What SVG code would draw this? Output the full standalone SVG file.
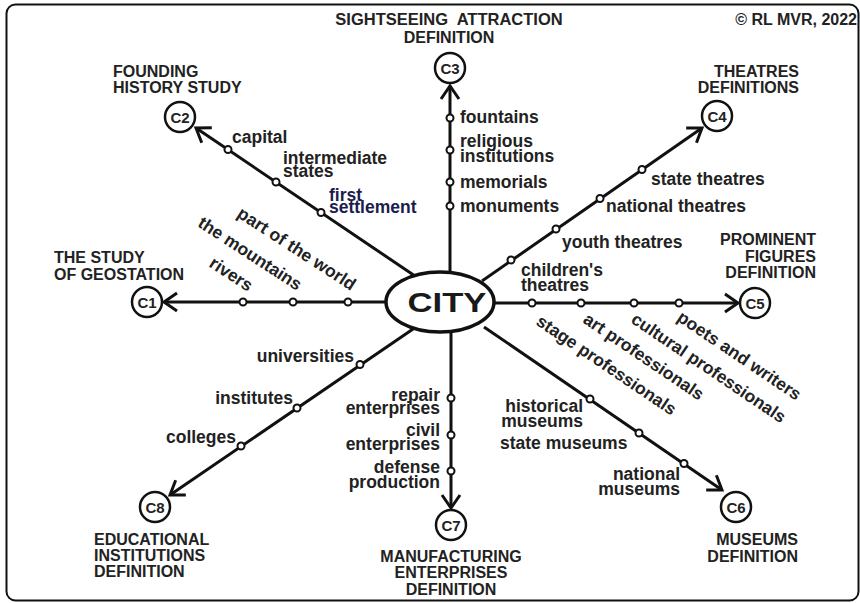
<svg xmlns="http://www.w3.org/2000/svg" width="860" height="603" viewBox="0 0 860 603">
<defs>
<marker id="arr" markerUnits="userSpaceOnUse" markerWidth="30" markerHeight="30" viewBox="-20 -15 30 30" refX="0" refY="0" orient="auto">
<path d="M-13,-9 L0,0 L-13,9" fill="none" stroke="#111" stroke-width="3"/>
</marker>
<style>
.t{font-family:"Liberation Sans",Arial,sans-serif;font-weight:bold;fill:#222}
.h{font-size:16px}
.l{font-size:17.5px}
.c{font-size:15px;text-anchor:middle}
.m{text-anchor:middle}
.e{text-anchor:end}
.ln{stroke:#111;stroke-width:3;fill:none}
.dot{fill:#fff;stroke:#111;stroke-width:2}
.nd{fill:#fff;stroke:#111;stroke-width:2.5}
.navy{fill:#1c1c4e}
</style>
</defs>
<rect x="6.5" y="4.5" width="852" height="596" rx="9" fill="#fff" stroke="#111" stroke-width="2"/>

<g id="connectors">
<line class="ln" x1="400" y1="302" x2="164" y2="302" marker-end="url(#arr)"/>
<line class="ln" x1="415" y1="276" x2="196" y2="128" marker-end="url(#arr)"/>
<line class="ln" x1="450" y1="285" x2="450" y2="86" marker-end="url(#arr)"/>
<line class="ln" x1="482" y1="281" x2="702" y2="128" marker-end="url(#arr)"/>
<line class="ln" x1="480" y1="303" x2="738" y2="303" marker-end="url(#arr)"/>
<line class="ln" x1="484" y1="327" x2="722" y2="490" marker-end="url(#arr)"/>
<line class="ln" x1="451" y1="320" x2="451" y2="508" marker-end="url(#arr)"/>
<line class="ln" x1="416" y1="327" x2="170" y2="495" marker-end="url(#arr)"/>
<g id="dots">
<circle class="dot" cx="243" cy="302" r="3.5"/><circle class="dot" cx="293" cy="302" r="3.5"/><circle class="dot" cx="348" cy="302" r="3.5"/>
<circle class="dot" cx="228" cy="149.5" r="3.5"/><circle class="dot" cx="276" cy="182" r="3.5"/><circle class="dot" cx="321" cy="212.5" r="3.5"/>
<circle class="dot" cx="450" cy="118" r="3.5"/><circle class="dot" cx="450" cy="150" r="3.5"/><circle class="dot" cx="450" cy="182" r="3.5"/><circle class="dot" cx="450" cy="206" r="3.5"/>
<circle class="dot" cx="511" cy="260" r="3.5"/><circle class="dot" cx="556" cy="229" r="3.5"/><circle class="dot" cx="600" cy="198.5" r="3.5"/><circle class="dot" cx="642" cy="169.5" r="3.5"/>
<circle class="dot" cx="532" cy="303" r="3.5"/><circle class="dot" cx="581" cy="303" r="3.5"/><circle class="dot" cx="634" cy="303" r="3.5"/><circle class="dot" cx="679" cy="303" r="3.5"/>
<circle class="dot" cx="590" cy="399" r="3.5"/><circle class="dot" cx="639" cy="433" r="3.5"/><circle class="dot" cx="684" cy="463.5" r="3.5"/>
<circle class="dot" cx="451" cy="398" r="3.5"/><circle class="dot" cx="451" cy="435" r="3.5"/><circle class="dot" cx="451" cy="471" r="3.5"/>
<circle class="dot" cx="360" cy="364.5" r="3.5"/><circle class="dot" cx="297" cy="408" r="3.5"/><circle class="dot" cx="241" cy="446" r="3.5"/>
</g>
</g>

<g id="city">
<ellipse cx="440" cy="302" rx="54" ry="30" fill="#fff" stroke="#111" stroke-width="3.5"/>
<text class="t" x="447" y="312" font-size="28" text-anchor="middle" textLength="79" lengthAdjust="spacingAndGlyphs" style="fill:#1a1a1a">CITY</text>
</g>

<g id="c1">
<circle class="nd" cx="147" cy="302" r="15"/>
<text class="t c" x="147" y="307.5">C1</text>
<text class="t h" x="54" y="263">THE STUDY</text>
<text class="t h" x="54" y="280">OF GEOSTATION</text>
</g>
<g id="c2">
<circle class="nd" cx="180" cy="117" r="15"/>
<text class="t c" x="180" y="122.5">C2</text>
<text class="t h" x="113" y="77">FOUNDING</text>
<text class="t h" x="113" y="93">HISTORY STUDY</text>
</g>
<g id="c3">
<circle class="nd" cx="450" cy="68" r="15"/>
<text class="t c" x="450" y="73.5">C3</text>
<text class="t h m" x="449" y="25" style="white-space:pre;font-size:16.5px">SIGHTSEEING  ATTRACTION</text>
<text class="t h m" x="449" y="43">DEFINITION</text>
</g>
<g id="c4">
<circle class="nd" cx="717" cy="116" r="15"/>
<text class="t c" x="717" y="121.5">C4</text>
<text class="t h e" x="799" y="77">THEATRES</text>
<text class="t h e" x="799" y="93">DEFINITIONS</text>
</g>
<g id="c5">
<circle class="nd" cx="755" cy="303" r="15"/>
<text class="t c" x="755" y="308.5">C5</text>
<text class="t h e" x="816" y="245">PROMINENT</text>
<text class="t h e" x="816" y="262">FIGURES</text>
<text class="t h e" x="816" y="278">DEFINITION</text>
</g>
<g id="c6">
<circle class="nd" cx="736" cy="507" r="15"/>
<text class="t c" x="736" y="512.5">C6</text>
<text class="t h e" x="798" y="545">MUSEUMS</text>
<text class="t h e" x="798" y="562">DEFINITION</text>
</g>
<g id="c7">
<circle class="nd" cx="451" cy="525" r="15"/>
<text class="t c" x="451" y="530.5">C7</text>
<text class="t h m" x="451" y="562">MANUFACTURING</text>
<text class="t h m" x="451" y="578">ENTERPRISES</text>
<text class="t h m" x="451" y="595">DEFINITION</text>
</g>
<g id="c8">
<circle class="nd" cx="155" cy="507" r="15"/>
<text class="t c" x="155" y="512.5">C8</text>
<text class="t h" x="94" y="545">EDUCATIONAL</text>
<text class="t h" x="94" y="561">INSTITUTIONS</text>
<text class="t h" x="94" y="577">DEFINITION</text>
</g>
<g id="copyright">
<text class="t h e" x="857" y="25">© RL MVR, 2022</text>
</g>

<g id="labels">
<text class="t l" x="232" y="143">capital</text>
<text class="t l" x="283" y="164">intermediate</text>
<text class="t l" x="283" y="177">states</text>
<text class="t l navy" x="329" y="201">first</text>
<text class="t l navy" x="329" y="213">settlement</text>

<text class="t l e" transform="translate(351,291) rotate(33)">part of the world</text>
<text class="t l e" transform="translate(297,291) rotate(33)">the mountains</text>
<text class="t l e" transform="translate(248,292) rotate(33)">rivers</text>

<text class="t l" x="460" y="123">fountains</text>
<text class="t l" x="460" y="147">religious</text>
<text class="t l" x="460" y="162">institutions</text>
<text class="t l" x="460" y="188">memorials</text>
<text class="t l" x="460" y="212">monuments</text>

<text class="t l" x="651" y="185">state theatres</text>
<text class="t l" x="606" y="212">national theatres</text>
<text class="t l" x="562" y="248">youth theatres</text>
<text class="t l" x="521" y="276">children's</text>
<text class="t l" x="521" y="291">theatres</text>

<text class="t l" transform="translate(535,324) rotate(34)">stage professionals</text>
<text class="t l" transform="translate(582,322) rotate(34)">art professionals</text>
<text class="t l" transform="translate(630,322) rotate(34)">cultural professionals</text>
<text class="t l" transform="translate(676,320) rotate(34)">poets and writers</text>

<text class="t l e" x="583" y="412">historical</text>
<text class="t l e" x="583" y="427">museums</text>
<text class="t l" x="500" y="449">state museums</text>
<text class="t l e" x="680" y="480">national</text>
<text class="t l e" x="680" y="495">museums</text>

<text class="t l e" x="440" y="401">repair</text>
<text class="t l e" x="440" y="414">enterprises</text>
<text class="t l e" x="440" y="436">civil</text>
<text class="t l e" x="440" y="450">enterprises</text>
<text class="t l e" x="440" y="473">defense</text>
<text class="t l e" x="440" y="488">production</text>

<text class="t l e" x="354" y="362">universities</text>
<text class="t l e" x="293" y="404">institutes</text>
<text class="t l e" x="236" y="443">colleges</text>
</g>
</svg>
